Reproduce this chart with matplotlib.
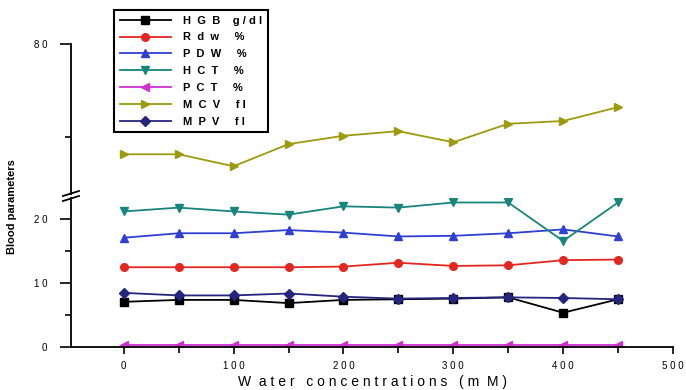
import matplotlib
matplotlib.use("Agg")
import matplotlib.pyplot as plt
from matplotlib.lines import Line2D

plt.rcParams['font.family'] = ['Liberation Sans', 'DejaVu Sans']

# --------------------------------------------------
# data
# --------------------------------------------------
conc = [0, 50, 100, 150, 200, 250, 300, 350, 400, 450]
hgb = [7.0, 7.3, 7.3, 6.8, 7.3, 7.4, 7.5, 7.7, 5.3, 7.4]
rdw = [12.4, 12.4, 12.4, 12.4, 12.5, 13.1, 12.6, 12.7, 13.5, 13.6]
pdw = [17.0, 17.7, 17.7, 18.2, 17.8, 17.2, 17.3, 17.7, 18.3, 17.2]
hct = [21.1, 21.7, 21.1, 20.6, 21.9, 21.7, 22.5, 22.5, 16.5, 22.5]
pct = [0.3, 0.3, 0.3, 0.3, 0.3, 0.3, 0.3, 0.3, 0.3, 0.3]
mcv = [68.1, 68.1, 66.8, 69.2, 70.1, 70.6, 69.4, 71.4, 71.7, 73.2]
mpv = [8.4, 8.0, 8.0, 8.3, 7.8, 7.5, 7.6, 7.7, 7.6, 7.4]

labels = ["H  G  B    g / d l", "R  d  w     %", "P  D  W     %", "H  C  T     %",
          "P  C  T     %", "M  C  V     f l", "M  P  V     f l"]
x_ticks = [0, 100, 200, 300, 400, 500]
low_ticks = [0, 10, 20]
up_ticks = [80]

series = [hgb, rdw, pdw, hct, pct, mcv, mpv]
colors = ["#000000", "#e3261f", "#2f3fd0", "#17857c", "#d030d0", "#9c9a0e", "#25257f"]
markers = ["s", "o", "^", "v", "<", ">", "D"]

fig = plt.figure(figsize=(6.86, 3.9), dpi=100)
left, right = 71 / 686, 673 / 686
ax_low = fig.add_axes([left, 43.3 / 390, right - left, (192 - 43.3) / 390])
ax_up = fig.add_axes([left, 196 / 390, right - left, (345.7 - 196) / 390], sharex=ax_low)

handles = []
for vals, c, m, lab in zip(series, colors, markers, labels):
    ax = ax_up if vals is mcv else ax_low
    h, = ax.plot(conc, vals, color=c, marker=m, markersize=5.5, lw=1.3, label=lab)
    handles.append(h)

ax_low.set_xlim(-48, 500)
ax_low.set_ylim(0, 23.2)
ax_up.set_ylim(63.8, 80)

for ax in (ax_low, ax_up):
    for s in ("top", "right"):
        ax.spines[s].set_visible(False)
    ax.spines["left"].set_linewidth(1.3)
    ax.patch.set_alpha(0)
ax_low.spines["bottom"].set_linewidth(1.3)
ax_up.spines["bottom"].set_visible(False)
ax_up.tick_params(axis="x", which="both", bottom=False, labelbottom=False)

ax_low.set_xticks(x_ticks)
ax_low.set_xticklabels([" ".join(str(v)) for v in x_ticks])
ax_low.set_xticks([50, 150, 250, 350, 450], minor=True)
ax_low.set_yticks(low_ticks)
ax_low.set_yticklabels([" ".join(str(v)) for v in low_ticks])
ax_low.set_yticks([5, 15], minor=True)
ax_up.set_yticks(up_ticks)
ax_up.set_yticklabels([" ".join(str(v)) for v in up_ticks])
ax_up.set_yticks([70], minor=True)

for ax in (ax_low, ax_up):
    ax.tick_params(axis="y", which="major", length=8, width=1.2, labelsize=7, pad=9)
    ax.tick_params(axis="y", which="minor", length=4, width=1.2)
ax_low.tick_params(axis="x", which="major", length=5, width=1.2, labelsize=7, pad=5)
ax_low.tick_params(axis="x", which="minor", length=4, width=1.2)

ax_low.set_xlabel("W  a t e r   c o n c e n t r a t i o n s   ( m  M )", fontsize=10, labelpad=3)
fig.text(12 / 686, 1 - 207 / 390, "Blood parameters", rotation=90, fontsize=8,
         fontweight="bold", ha="center", va="center")

# break marks on the y axis
for yb in (193.5, 198.5):
    fig.add_artist(Line2D([63 / 686, 79 / 686], [1 - (yb + 2.5) / 390, 1 - (yb - 2.5) / 390],
                          color="black", lw=1.3))

leg = fig.legend(handles=handles, loc="upper left", bbox_to_anchor=(114 / 686, 1 - 10 / 390),
                 prop={"size": 8, "weight": "bold"}, handlelength=4.6, handletextpad=1.1,
                 labelspacing=0.62, borderpad=0.5, borderaxespad=0, fancybox=False,
                 framealpha=1, edgecolor="black")
leg.get_frame().set_linewidth(1.5)

fig.savefig("out.png", dpi=100)
